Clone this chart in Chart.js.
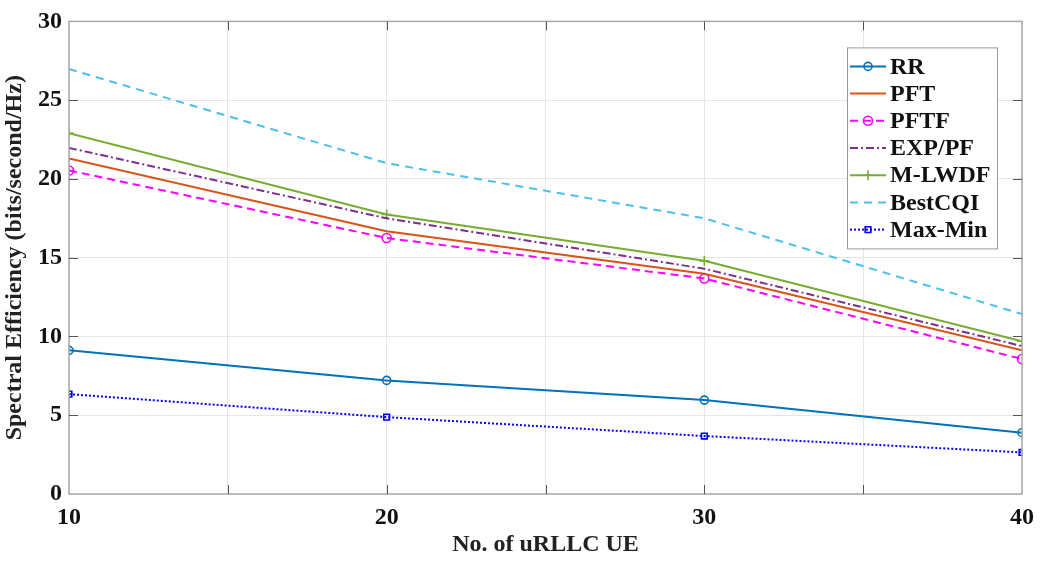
<!DOCTYPE html>
<html>
<head>
<meta charset="utf-8">
<script src="https://cdn.jsdelivr.net/npm/chart.js@4.4.1/dist/chart.umd.min.js"></script>
<style>
  body { margin: 0; background: #fff; }
  #wrap { width: 1043px; height: 561px; }
</style>
</head>
<body>
<div id="wrap"><canvas id="myChart" width="1043" height="561"></canvas></div>
<script>
// values
const ueCounts = [10, 20, 30, 40];
const rr      = [9.12, 7.21, 5.96, 3.89];
const pft     = [21.3, 16.68, 13.98, 9.13];
const pftf    = [20.54, 16.25, 13.68, 8.57];
const expPf   = [21.97, 17.5, 14.3, 9.39];
const mLwdf   = [22.9, 17.74, 14.8, 9.7];
const bestCqi = [26.98, 21.0, 17.5, 11.42];
const maxMin  = [6.34, 4.88, 3.68, 2.64];

const xTicks = [10, 20, 30, 40];

const pts = arr => arr.map((v, i) => ({ x: ueCounts[i], y: v }));
const FONT = "'Liberation Serif', 'Times New Roman', serif";

// MATLAB-like box, inward ticks and legend inside the axes
const boxAndLegend = {
  id: 'boxAndLegend',
  afterDraw(chart) {
    const ctx = chart.ctx;
    const a = chart.chartArea;
    const xs = chart.scales.x, ys = chart.scales.y;
    ctx.save();
    ctx.strokeStyle = '#a8a8a8';
    ctx.lineWidth = 1.5;
    ctx.strokeRect(a.left, a.top, a.right - a.left, a.bottom - a.top);
    ctx.strokeStyle = '#555';
    ctx.lineWidth = 1;
    ctx.beginPath();
    for (let v = 15; v < 40; v += 5) {
      const px = Math.round(xs.getPixelForValue(v)) + 0.5;
      ctx.moveTo(px, a.bottom); ctx.lineTo(px, a.bottom - 9);
      ctx.moveTo(px, a.top); ctx.lineTo(px, a.top + 9);
    }
    for (let v = 5; v < 30; v += 5) {
      const py = Math.round(ys.getPixelForValue(v)) + 0.5;
      ctx.moveTo(a.left, py); ctx.lineTo(a.left + 9, py);
      ctx.moveTo(a.right, py); ctx.lineTo(a.right - 9, py);
    }
    ctx.stroke();

    // legend
    const lx = a.right - 175, ly = a.top + 26, lw = 150, lh = 201;
    ctx.fillStyle = '#fff';
    ctx.fillRect(lx, ly, lw, lh);
    ctx.strokeStyle = '#999';
    ctx.lineWidth = 1;
    ctx.strokeRect(lx + 0.5, ly + 0.5, lw, lh);
    ctx.font = "bold 24px " + FONT;
    ctx.textBaseline = 'middle';
    chart.data.datasets.forEach((ds, i) => {
      const y = ly + 19 + i * 27.2;
      ctx.strokeStyle = ds.borderColor;
      ctx.lineWidth = ds.borderWidth;
      ctx.setLineDash(ds.borderDash || []);
      ctx.beginPath();
      ctx.moveTo(lx + 3, y); ctx.lineTo(lx + 39, y);
      ctx.stroke();
      ctx.setLineDash([]);
      if (ds.pointRadius > 0) {
        ctx.strokeStyle = ds.pointBorderColor;
        ctx.fillStyle = ds.pointBackgroundColor;
        ctx.lineWidth = ds.pointBorderWidth;
        Chart.helpers.drawPoint(ctx, {
          pointStyle: ds.pointStyle, radius: ds.pointRadius,
          borderWidth: ds.pointBorderWidth, rotation: 0
        }, lx + 21, y);
      }
      ctx.fillStyle = '#111';
      ctx.fillText(ds.label, lx + 43, y + 1);
    });
    ctx.restore();
  }
};

function series(label, data, color, dash, style, radius) {
  return {
    label: label,
    data: pts(data),
    borderColor: color,
    borderWidth: 2,
    borderDash: dash,
    pointStyle: style || 'circle',
    pointRadius: radius || 0,
    pointHoverRadius: radius || 0,
    pointBorderColor: color,
    pointBorderWidth: 1.6,
    pointBackgroundColor: 'rgba(255,255,255,0)',
    tension: 0,
    fill: false
  };
}

const ctx = document.getElementById('myChart').getContext('2d');
const chart = new Chart(ctx, {
  type: 'line',
  data: {
    datasets: [
      series('RR', rr, '#0072BD', [], 'circle', 4),
      series('PFT', pft, '#D95319', []),
      series('PFTF', pftf, '#FF00FF', [8, 5], 'circle', 4.5),
      series('EXP/PF', expPf, '#7E2F8E', [8, 3, 2, 3]),
      series('M-LWDF', mLwdf, '#77AC30', [], 'cross', 5),
      series('BestCQI', bestCqi, '#4DBEEE', [8, 6]),
      series('Max-Min', maxMin, '#0000FF', [2, 2], 'rect', 4)
    ]
  },
  options: {
    responsive: false,
    animation: false,
    layout: { padding: { top: 17, right: 21, left: 0, bottom: 0 } },
    plugins: { legend: { display: false }, tooltip: { enabled: false } },
    scales: {
      x: {
        type: 'linear',
        min: 10, max: 40,
        afterFit(scale) { scale.height = 67; },
        border: { display: false },
        grid: { color: '#e6e6e6', drawTicks: false },
        ticks: {
          stepSize: 5,
          padding: 9,
          color: '#111',
          font: { family: FONT, size: 24, weight: 'bold' },
          callback: v => (xTicks.includes(v) ? v : '')
        },
        title: {
          display: true,
          text: 'No. of uRLLC UE',
          color: '#222',
          font: { family: FONT, size: 24, weight: 'bold' },
          padding: { top: 0, bottom: 2 }
        }
      },
      y: {
        min: 0, max: 30,
        afterFit(scale) { scale.width = 69; },
        border: { display: false },
        grid: { color: '#e6e6e6', drawTicks: false },
        ticks: {
          stepSize: 5,
          padding: 7,
          color: '#111',
          font: { family: FONT, size: 24, weight: 'bold' }
        },
        title: {
          display: true,
          text: 'Spectral Efficiency (bits/second/Hz)',
          color: '#222',
          font: { family: FONT, size: 24, weight: 'bold' },
          padding: { top: 0, bottom: 0 }
        }
      }
    }
  },
  plugins: [boxAndLegend]
});
</script>
</body>
</html>
